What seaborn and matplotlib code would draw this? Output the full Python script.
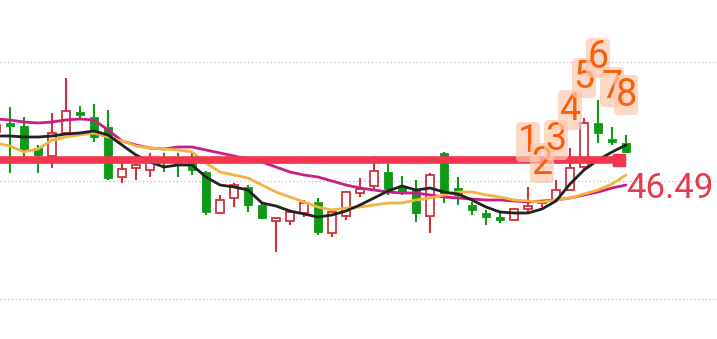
import numpy as np
import pandas as pd
import matplotlib
matplotlib.use("Agg")
import matplotlib.pyplot as plt
import seaborn as sns

# ---------------- data (prices) ----------------
opens = [47.61, 47.79, 47.73, 47.29, 47.13, 47.59, 48.01, 47.91, 47.71, 46.71,
         46.89, 46.85, 47.05, 47.01, 46.99, 46.81, 45.99, 46.29, 46.51, 46.15,
         45.83, 45.83, 45.99, 46.21, 45.59, 45.93, 46.39, 46.53, 46.81, 46.51,
         46.45, 45.93, 47.19, 46.49, 46.15, 45.99, 45.91, 45.85, 46.07, 46.19,
         46.25, 46.45, 46.91, 47.79, 47.47, 47.39]
highs = [47.83, 48.11, 47.91, 47.35, 47.99, 48.69, 48.13, 48.17, 48.05, 46.99,
         47.15, 47.19, 47.19, 47.19, 47.21, 46.83, 46.35, 46.59, 46.55, 46.19,
         45.91, 46.05, 46.25, 46.29, 46.05, 46.43, 46.69, 47.13, 46.97, 46.73,
         46.65, 46.79, 47.21, 46.71, 46.21, 46.05, 45.99, 46.09, 46.51, 46.25,
         46.65, 47.29, 47.89, 48.25, 47.71, 47.55]
lows = [47.53, 46.79, 46.99, 46.79, 46.89, 47.57, 47.89, 47.41, 46.65, 46.59,
        46.65, 46.71, 46.81, 46.71, 46.75, 45.95, 45.97, 46.11, 46.01, 45.87,
        45.21, 45.75, 45.91, 45.55, 45.51, 45.85, 46.31, 46.47, 46.35, 46.35,
        45.81, 45.59, 46.19, 46.15, 45.95, 45.75, 45.79, 45.83, 46.01, 46.11,
        46.21, 46.43, 46.85, 47.39, 47.35, 47.19]
closes = [47.75, 47.73, 47.27, 47.15, 47.59, 48.03, 47.95, 47.51, 46.69, 46.87,
          46.95, 47.09, 47.01, 46.97, 46.85, 46.01, 46.25, 46.55, 46.15, 45.89,
          45.89, 46.01, 46.19, 45.61, 46.01, 46.41, 46.47, 46.83, 46.47, 46.41,
          45.99, 46.75, 46.39, 46.35, 46.05, 45.91, 45.85, 46.07, 46.13, 46.23,
          46.45, 46.89, 47.79, 47.59, 47.41, 47.21]

ma_black = [47.53, 47.53, 47.51, 47.51, 47.53, 47.57, 47.59, 47.63, 47.55, 47.35,
            47.15, 47.01, 46.91, 46.95, 46.95, 46.71, 46.55, 46.51, 46.45, 46.19,
            46.13, 46.03, 45.97, 45.91, 45.95, 46.03, 46.15, 46.29, 46.43, 46.53,
            46.45, 46.49, 46.41, 46.37, 46.25, 46.11, 46.01, 45.99, 45.99, 46.07,
            46.23, 46.57, 46.85, 47.05, 47.21, 47.35]
ma_orange = [47.39, 47.33, 47.21, 47.27, 47.45, 47.51, 47.55, 47.59, 47.51, 47.43,
             47.33, 47.29, 47.27, 47.25, 47.21, 46.99, 46.81, 46.75, 46.69, 46.55,
             46.41, 46.31, 46.21, 46.11, 46.05, 46.09, 46.11, 46.15, 46.19, 46.19,
             46.25, 46.29, 46.35, 46.41, 46.41, 46.35, 46.31, 46.25, 46.23, 46.21,
             46.25, 46.29, 46.37, 46.45, 46.57, 46.75]
ma_magenta = [47.87, 47.85, 47.81, 47.79, 47.81, 47.85, 47.87, 47.85, 47.65, 47.43,
              47.35, 47.29, 47.27, 47.31, 47.31, 47.25, 47.19, 47.13, 47.07, 47.01,
              46.91, 46.81, 46.75, 46.71, 46.63, 46.55, 46.49, 46.45, 46.41, 46.39,
              46.39, 46.35, 46.31, 46.29, 46.27, 46.25, 46.25, 46.23, 46.21, 46.23,
              46.25, 46.29, 46.35, 46.41, 46.49, 46.55]

support_level = 47.05
last_label = "46.49"
last_value = 46.49
grid_levels = [49.01, 46.64, 44.27]

marker_labels = ["1", "2", "3", "4", "5", "6", "7", "8"]
marker_candles = [38, 39, 40, 41, 42, 43, 44, 45]      # candle index each number sits over
marker_offsets = [45, 37, 40, 38, 40, 42, 40, 40]       # pixels above the candle high

# ---------------- drawing ----------------
sns.set_theme(style="white")
plt.rcParams["font.family"] = ["Roboto", "DejaVu Sans"]

fig = plt.figure(figsize=(7.17, 3.39), dpi=100)
ax = fig.add_axes([0, 0, 1, 1])

n = len(opens)
idx = np.arange(n) - 1          # first candle is only partly visible at the left edge
df = pd.DataFrame({"i": idx, "o": opens, "h": highs, "l": lows, "c": closes,
                   "ma5": ma_black, "ma10": ma_orange, "ma20": ma_magenta})

RED = "#d0323c"
GREEN = "#0e9a16"

# grid
for g in grid_levels:
    ax.axhline(g, color="#c8c8c8", lw=0.9, ls=(0, (1.2, 1.8)), zorder=0)

# candles
body_w = 0.64
for _, r in df.iterrows():
    up = r.c >= r.o
    col = RED if up else GREEN
    top, bot = max(r.o, r.c), min(r.o, r.c)
    ax.vlines(r.i, top, r.h, color=col, lw=1.5, zorder=2)
    ax.vlines(r.i, r.l, bot, color=col, lw=1.5, zorder=2)
    h = max(top - bot, 0.02)
    if up:
        ax.add_patch(plt.Rectangle((r.i - body_w / 2, bot), body_w, h,
                                   facecolor="white", edgecolor=col, lw=1.3, zorder=3))
    else:
        ax.add_patch(plt.Rectangle((r.i - body_w / 2, bot), body_w, h,
                                   facecolor=col, edgecolor=col, lw=0.6, zorder=3))

# moving averages
sns.lineplot(data=df, x="i", y="ma20", color="#c81e86", lw=2.0, ax=ax, zorder=4)
sns.lineplot(data=df, x="i", y="ma10", color="#f4b240", lw=2.0, ax=ax, zorder=4)
sns.lineplot(data=df, x="i", y="ma5", color="#222222", lw=2.0, ax=ax, zorder=5)

# support line
end_x = idx[-1] - 0.5
ax.plot([-2, end_x], [support_level, support_level], color="#f2364d", lw=5.5,
        solid_capstyle="butt", zorder=6)
ax.plot([end_x], [support_level], marker="s", ms=8.5, color="#f2364d", zorder=6)

# last value label
ax.annotate(last_label, xy=(idx[-1], last_value), xytext=(0, 0),
            textcoords="offset pixels", ha="left", va="center",
            fontsize=25, color="#e8394d", zorder=7)

# numbered markers
for lab, ci, off in zip(marker_labels, marker_candles, marker_offsets):
    ax.annotate(lab, xy=(idx[ci], highs[ci]), xytext=(0, off),
                textcoords="offset pixels", ha="center", va="center",
                fontsize=27, color="#fb5d0c", zorder=8,
                bbox=dict(boxstyle="round,pad=0.04,rounding_size=0.12",
                          facecolor="#fcc8b0", edgecolor="none", alpha=0.7))

ax.set_xlim(-0.714, 50.5)
ax.set_ylim(43.47, 50.25)
ax.set_xlabel("")
ax.set_ylabel("")
ax.set_xticks([])
ax.set_yticks([])
for s in ax.spines.values():
    s.set_visible(False)

fig.savefig("out.png", dpi=100)
